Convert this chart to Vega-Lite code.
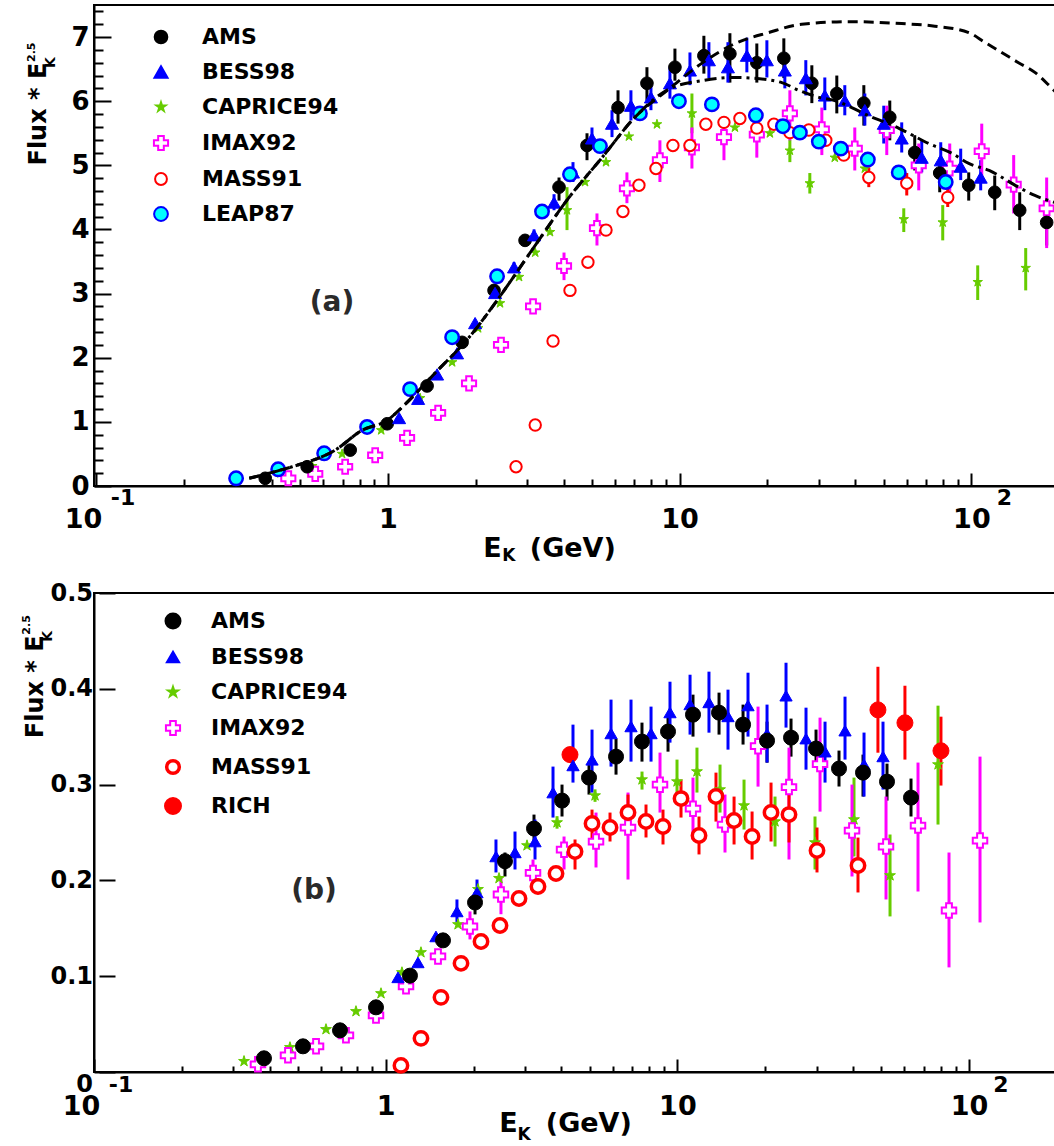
{
  "$schema": "https://vega.github.io/schema/vega-lite/v6.json",
  "background": "white",
  "padding": {"left": 20, "top": 4, "right": 0, "bottom": 0},
  "config": {
    "view": {"stroke": "black", "strokeWidth": 2},
    "font": "DejaVu Sans",
    "axis": {
      "grid": false, "domainColor": "black", "domainWidth": 2, "tickColor": "black", "tickWidth": 2,
      "labelColor": "black", "titleColor": "black", "labelFont": "DejaVu Sans", "labelFontWeight": "bold",
      "titleFont": "DejaVu Sans", "titleFontWeight": "bold", "labelFlush": false, "labelBound": false
    }
  },
  "datasets": {
    "a_pts": [
      {"series": "AMS", "E": 0.380, "flux": 0.12},
      {"series": "AMS", "E": 0.529, "flux": 0.30},
      {"series": "AMS", "E": 0.743, "flux": 0.56},
      {"series": "AMS", "E": 0.995, "flux": 0.97},
      {"series": "AMS", "E": 1.363, "flux": 1.56},
      {"series": "AMS", "E": 1.797, "flux": 2.24},
      {"series": "AMS", "E": 2.312, "flux": 3.05},
      {"series": "AMS", "E": 2.953, "flux": 3.83},
      {"series": "AMS", "E": 3.861, "flux": 4.66, "lo": 4.45, "hi": 4.81},
      {"series": "AMS", "E": 4.815, "flux": 5.31, "lo": 5.08, "hi": 5.50},
      {"series": "AMS", "E": 6.15, "flux": 5.90, "lo": 5.65, "hi": 6.17},
      {"series": "AMS", "E": 7.727, "flux": 6.28, "lo": 6.01, "hi": 6.53},
      {"series": "AMS", "E": 9.637, "flux": 6.53, "lo": 6.32, "hi": 6.82},
      {"series": "AMS", "E": 12.11, "flux": 6.71, "lo": 6.43, "hi": 7.02},
      {"series": "AMS", "E": 14.87, "flux": 6.74, "lo": 6.29, "hi": 7.06},
      {"series": "AMS", "E": 18.39, "flux": 6.60, "lo": 6.29, "hi": 6.90},
      {"series": "AMS", "E": 22.76, "flux": 6.67, "lo": 6.36, "hi": 6.98},
      {"series": "AMS", "E": 28.39, "flux": 6.28, "lo": 5.97, "hi": 6.56},
      {"series": "AMS", "E": 34.57, "flux": 6.12, "lo": 5.81, "hi": 6.40},
      {"series": "AMS", "E": 42.79, "flux": 5.97, "lo": 5.62, "hi": 6.25},
      {"series": "AMS", "E": 52.51, "flux": 5.75, "lo": 5.39, "hi": 6.01},
      {"series": "AMS", "E": 63.94, "flux": 5.20, "lo": 4.92, "hi": 5.47},
      {"series": "AMS", "E": 77.88, "flux": 4.88, "lo": 4.58, "hi": 5.12},
      {"series": "AMS", "E": 97.9, "flux": 4.69, "lo": 4.45, "hi": 4.89},
      {"series": "AMS", "E": 120.2, "flux": 4.58, "lo": 4.30, "hi": 4.84},
      {"series": "AMS", "E": 146.4, "flux": 4.30, "lo": 3.99, "hi": 4.58},
      {"series": "AMS", "E": 181.1, "flux": 4.11, "lo": 3.75, "hi": 4.49},

      {"series": "BESS98", "E": 1.093, "flux": 1.06},
      {"series": "BESS98", "E": 1.270, "flux": 1.36},
      {"series": "BESS98", "E": 1.475, "flux": 1.74},
      {"series": "BESS98", "E": 1.727, "flux": 2.07},
      {"series": "BESS98", "E": 1.991, "flux": 2.54},
      {"series": "BESS98", "E": 2.331, "flux": 3.01},
      {"series": "BESS98", "E": 2.707, "flux": 3.41, "lo": 3.34, "hi": 3.49},
      {"series": "BESS98", "E": 3.17, "flux": 3.91, "lo": 3.82, "hi": 4.00},
      {"series": "BESS98", "E": 3.712, "flux": 4.42, "lo": 4.30, "hi": 4.55},
      {"series": "BESS98", "E": 4.311, "flux": 4.89, "lo": 4.74, "hi": 5.05},
      {"series": "BESS98", "E": 5.008, "flux": 5.42, "lo": 5.28, "hi": 5.59},
      {"series": "BESS98", "E": 5.865, "flux": 5.65, "lo": 5.44, "hi": 5.86},
      {"series": "BESS98", "E": 6.81, "flux": 5.93, "lo": 5.70, "hi": 6.17},
      {"series": "BESS98", "E": 7.975, "flux": 6.06, "lo": 5.86, "hi": 6.25},
      {"series": "BESS98", "E": 9.265, "flux": 6.28, "lo": 6.04, "hi": 6.53},
      {"series": "BESS98", "E": 10.85, "flux": 6.48, "lo": 6.25, "hi": 6.76},
      {"series": "BESS98", "E": 12.60, "flux": 6.64, "lo": 6.36, "hi": 6.92},
      {"series": "BESS98", "E": 14.64, "flux": 6.53, "lo": 6.29, "hi": 6.92},
      {"series": "BESS98", "E": 17.0, "flux": 6.71, "lo": 6.45, "hi": 6.99},
      {"series": "BESS98", "E": 19.91, "flux": 6.64, "lo": 6.37, "hi": 6.95},
      {"series": "BESS98", "E": 22.94, "flux": 6.48, "lo": 6.20, "hi": 6.76},
      {"series": "BESS98", "E": 27.07, "flux": 6.36, "lo": 6.09, "hi": 6.64},
      {"series": "BESS98", "E": 31.45, "flux": 6.09, "lo": 5.86, "hi": 6.37},
      {"series": "BESS98", "E": 36.82, "flux": 6.01, "lo": 5.78, "hi": 6.25},
      {"series": "BESS98", "E": 43.13, "flux": 5.86, "lo": 5.62, "hi": 6.12},
      {"series": "BESS98", "E": 50.08, "flux": 5.65, "lo": 5.34, "hi": 5.93},
      {"series": "BESS98", "E": 57.70, "flux": 5.42, "lo": 5.20, "hi": 5.67},
      {"series": "BESS98", "E": 67.57, "flux": 5.12, "lo": 4.89, "hi": 5.39},
      {"series": "BESS98", "E": 78.51, "flux": 5.08, "lo": 4.74, "hi": 5.36},
      {"series": "BESS98", "E": 91.9, "flux": 4.98, "lo": 4.77, "hi": 5.26},
      {"series": "BESS98", "E": 107.6, "flux": 4.81, "lo": 4.61, "hi": 5.08},

      {"series": "CAPRICE94", "E": 0.428, "flux": 0.20},
      {"series": "CAPRICE94", "E": 0.551, "flux": 0.31},
      {"series": "CAPRICE94", "E": 0.697, "flux": 0.50},
      {"series": "CAPRICE94", "E": 0.949, "flux": 0.87},
      {"series": "CAPRICE94", "E": 1.290, "flux": 1.37},
      {"series": "CAPRICE94", "E": 1.661, "flux": 1.93},
      {"series": "CAPRICE94", "E": 2.039, "flux": 2.46},
      {"series": "CAPRICE94", "E": 2.424, "flux": 2.85},
      {"series": "CAPRICE94", "E": 2.817, "flux": 3.26},
      {"series": "CAPRICE94", "E": 3.20, "flux": 3.64},
      {"series": "CAPRICE94", "E": 3.596, "flux": 3.96},
      {"series": "CAPRICE94", "E": 4.112, "flux": 4.30, "lo": 3.99, "hi": 4.66},
      {"series": "CAPRICE94", "E": 4.740, "flux": 4.74},
      {"series": "CAPRICE94", "E": 5.594, "flux": 5.05},
      {"series": "CAPRICE94", "E": 6.703, "flux": 5.45},
      {"series": "CAPRICE94", "E": 8.363, "flux": 5.64},
      {"series": "CAPRICE94", "E": 11.02, "flux": 5.81, "lo": 5.50, "hi": 6.12},
      {"series": "CAPRICE94", "E": 15.47, "flux": 5.59},
      {"series": "CAPRICE94", "E": 20.39, "flux": 5.50},
      {"series": "CAPRICE94", "E": 23.87, "flux": 5.23, "lo": 5.05, "hi": 5.40},
      {"series": "CAPRICE94", "E": 27.94, "flux": 4.72, "lo": 4.56, "hi": 4.88},
      {"series": "CAPRICE94", "E": 34.02, "flux": 5.12},
      {"series": "CAPRICE94", "E": 43.13, "flux": 4.95},
      {"series": "CAPRICE94", "E": 58.64, "flux": 4.16, "lo": 3.96, "hi": 4.33},
      {"series": "CAPRICE94", "E": 79.75, "flux": 4.11, "lo": 3.83, "hi": 4.38},
      {"series": "CAPRICE94", "E": 105.1, "flux": 3.18, "lo": 2.90, "hi": 3.44},
      {"series": "CAPRICE94", "E": 153.5, "flux": 3.40, "lo": 3.05, "hi": 3.71},

      {"series": "IMAX92", "E": 0.456, "flux": 0.12},
      {"series": "IMAX92", "E": 0.564, "flux": 0.19},
      {"series": "IMAX92", "E": 0.714, "flux": 0.30},
      {"series": "IMAX92", "E": 0.905, "flux": 0.48},
      {"series": "IMAX92", "E": 1.164, "flux": 0.75},
      {"series": "IMAX92", "E": 1.487, "flux": 1.14},
      {"series": "IMAX92", "E": 1.898, "flux": 1.60},
      {"series": "IMAX92", "E": 2.443, "flux": 2.20},
      {"series": "IMAX92", "E": 3.146, "flux": 2.80, "lo": 2.70, "hi": 2.90},
      {"series": "IMAX92", "E": 4.016, "flux": 3.43, "lo": 3.21, "hi": 3.64},
      {"series": "IMAX92", "E": 5.209, "flux": 4.02, "lo": 3.75, "hi": 4.25},
      {"series": "IMAX92", "E": 6.598, "flux": 4.64, "lo": 4.41, "hi": 4.89},
      {"series": "IMAX92", "E": 8.56, "flux": 5.08, "lo": 4.74, "hi": 5.39},
      {"series": "IMAX92", "E": 11.02, "flux": 5.28, "lo": 4.95, "hi": 5.59},
      {"series": "IMAX92", "E": 14.19, "flux": 5.44, "lo": 5.08, "hi": 5.62},
      {"series": "IMAX92", "E": 18.39, "flux": 5.48, "lo": 5.12, "hi": 5.75},
      {"series": "IMAX92", "E": 23.87, "flux": 5.81, "lo": 5.39, "hi": 6.17},
      {"series": "IMAX92", "E": 30.72, "flux": 5.56, "lo": 5.16, "hi": 5.90},
      {"series": "IMAX92", "E": 39.84, "flux": 5.26, "lo": 4.92, "hi": 5.59},
      {"series": "IMAX92", "E": 51.28, "flux": 5.55, "lo": 5.16, "hi": 5.93},
      {"series": "IMAX92", "E": 66.0, "flux": 5.00, "lo": 4.61, "hi": 5.34},
      {"series": "IMAX92", "E": 84.28, "flux": 4.95, "lo": 4.56, "hi": 5.34},
      {"series": "IMAX92", "E": 108.5, "flux": 5.22, "lo": 4.77, "hi": 5.65},
      {"series": "IMAX92", "E": 139.6, "flux": 4.70, "lo": 4.25, "hi": 5.16},
      {"series": "IMAX92", "E": 181.1, "flux": 4.33, "lo": 3.71, "hi": 4.81},

      {"series": "MASS91", "E": 2.750, "flux": 0.30},
      {"series": "MASS91", "E": 3.20, "flux": 0.95},
      {"series": "MASS91", "E": 3.683, "flux": 2.26},
      {"series": "MASS91", "E": 4.21, "flux": 3.05},
      {"series": "MASS91", "E": 4.85, "flux": 3.49},
      {"series": "MASS91", "E": 5.594, "flux": 3.99},
      {"series": "MASS91", "E": 6.394, "flux": 4.28},
      {"series": "MASS91", "E": 7.254, "flux": 4.69},
      {"series": "MASS91", "E": 8.296, "flux": 4.95},
      {"series": "MASS91", "E": 9.486, "flux": 5.31},
      {"series": "MASS91", "E": 10.85, "flux": 5.31},
      {"series": "MASS91", "E": 12.30, "flux": 5.64},
      {"series": "MASS91", "E": 14.19, "flux": 5.67},
      {"series": "MASS91", "E": 16.09, "flux": 5.73},
      {"series": "MASS91", "E": 18.39, "flux": 5.58},
      {"series": "MASS91", "E": 21.04, "flux": 5.64},
      {"series": "MASS91", "E": 23.87, "flux": 5.51},
      {"series": "MASS91", "E": 27.72, "flux": 5.55},
      {"series": "MASS91", "E": 31.70, "flux": 5.39},
      {"series": "MASS91", "E": 36.53, "flux": 5.16},
      {"series": "MASS91", "E": 44.50, "flux": 4.81, "lo": 4.66, "hi": 4.97},
      {"series": "MASS91", "E": 60.04, "flux": 4.72, "lo": 4.53, "hi": 4.88},
      {"series": "MASS91", "E": 82.96, "flux": 4.50, "lo": 4.35, "hi": 4.66},

      {"series": "LEAP87", "E": 0.302, "flux": 0.12},
      {"series": "LEAP87", "E": 0.421, "flux": 0.26},
      {"series": "LEAP87", "E": 0.605, "flux": 0.51},
      {"series": "LEAP87", "E": 0.849, "flux": 0.92},
      {"series": "LEAP87", "E": 1.192, "flux": 1.51},
      {"series": "LEAP87", "E": 1.661, "flux": 2.32},
      {"series": "LEAP87", "E": 2.368, "flux": 3.27},
      {"series": "LEAP87", "E": 3.376, "flux": 4.28},
      {"series": "LEAP87", "E": 4.21, "flux": 4.86},
      {"series": "LEAP87", "E": 5.334, "flux": 5.30},
      {"series": "LEAP87", "E": 7.31, "flux": 5.81},
      {"series": "LEAP87", "E": 9.946, "flux": 6.00},
      {"series": "LEAP87", "E": 12.90, "flux": 5.95},
      {"series": "LEAP87", "E": 18.25, "flux": 5.78},
      {"series": "LEAP87", "E": 22.59, "flux": 5.61},
      {"series": "LEAP87", "E": 25.83, "flux": 5.51},
      {"series": "LEAP87", "E": 30.0, "flux": 5.37},
      {"series": "LEAP87", "E": 35.68, "flux": 5.26},
      {"series": "LEAP87", "E": 44.16, "flux": 5.09},
      {"series": "LEAP87", "E": 56.36, "flux": 4.89},
      {"series": "LEAP87", "E": 81.66, "flux": 4.74}
    ],
    "a_curves": [
      {"curve": "A", "E": 0.335, "flux": 0.12}, {"curve": "A", "E": 0.392, "flux": 0.20}, {"curve": "A", "E": 0.47, "flux": 0.30},
      {"curve": "A", "E": 0.66, "flux": 0.56}, {"curve": "A", "E": 0.817, "flux": 0.87}, {"curve": "A", "E": 1.0, "flux": 1.03},
      {"curve": "A", "E": 1.12, "flux": 1.23}, {"curve": "A", "E": 1.45, "flux": 1.76}, {"curve": "A", "E": 1.90, "flux": 2.32},
      {"curve": "A", "E": 2.46, "flux": 3.0}, {"curve": "A", "E": 3.12, "flux": 3.68}, {"curve": "A", "E": 4.18, "flux": 4.50},
      {"curve": "A", "E": 5.42, "flux": 5.12}, {"curve": "A", "E": 7.03, "flux": 5.75}, {"curve": "A", "E": 9.19, "flux": 6.19},
      {"curve": "A", "E": 11.9, "flux": 6.59}, {"curve": "A", "E": 15.5, "flux": 6.90}, {"curve": "A", "E": 20.2, "flux": 7.07},
      {"curve": "A", "E": 26.2, "flux": 7.20}, {"curve": "A", "E": 38.9, "flux": 7.24}, {"curve": "A", "E": 57.7, "flux": 7.21},
      {"curve": "A", "E": 74.9, "flux": 7.17}, {"curve": "A", "E": 97.9, "flux": 7.07}, {"curve": "A", "E": 111, "flux": 6.92},
      {"curve": "A", "E": 127, "flux": 6.76}, {"curve": "A", "E": 145, "flux": 6.60}, {"curve": "A", "E": 165, "flux": 6.45},
      {"curve": "A", "E": 188, "flux": 6.21}, {"curve": "A", "E": 201, "flux": 6.08},
      {"curve": "B", "E": 0.335, "flux": 0.12}, {"curve": "B", "E": 0.392, "flux": 0.20}, {"curve": "B", "E": 0.47, "flux": 0.30},
      {"curve": "B", "E": 0.66, "flux": 0.56}, {"curve": "B", "E": 0.817, "flux": 0.87}, {"curve": "B", "E": 1.0, "flux": 1.03},
      {"curve": "B", "E": 1.12, "flux": 1.23}, {"curve": "B", "E": 1.45, "flux": 1.76}, {"curve": "B", "E": 1.90, "flux": 2.32},
      {"curve": "B", "E": 2.46, "flux": 3.0}, {"curve": "B", "E": 3.12, "flux": 3.68}, {"curve": "B", "E": 4.18, "flux": 4.50},
      {"curve": "B", "E": 5.42, "flux": 5.12}, {"curve": "B", "E": 7.03, "flux": 5.75}, {"curve": "B", "E": 9.19, "flux": 6.19},
      {"curve": "B", "E": 11.9, "flux": 6.32}, {"curve": "B", "E": 15.5, "flux": 6.37}, {"curve": "B", "E": 17.7, "flux": 6.36},
      {"curve": "B", "E": 22.4, "flux": 6.29}, {"curve": "B", "E": 25.6, "flux": 6.17}, {"curve": "B", "E": 30.0, "flux": 6.06},
      {"curve": "B", "E": 34.0, "flux": 6.01}, {"curve": "B", "E": 38.9, "flux": 5.90}, {"curve": "B", "E": 45.6, "flux": 5.75},
      {"curve": "B", "E": 52.1, "flux": 5.65}, {"curve": "B", "E": 61.0, "flux": 5.50}, {"curve": "B", "E": 71.4, "flux": 5.34},
      {"curve": "B", "E": 85.6, "flux": 5.19}, {"curve": "B", "E": 97.9, "flux": 5.03}, {"curve": "B", "E": 115, "flux": 4.92},
      {"curve": "B", "E": 145, "flux": 4.66}, {"curve": "B", "E": 165, "flux": 4.53}, {"curve": "B", "E": 184, "flux": 4.45},
      {"curve": "B", "E": 201, "flux": 4.40}
    ],
    "b_pts": [
      {"series": "AMS", "E": 0.3826, "flux": 0.0143},
      {"series": "AMS", "E": 0.5205, "flux": 0.0268},
      {"series": "AMS", "E": 0.6971, "flux": 0.0435},
      {"series": "AMS", "E": 0.9263, "flux": 0.0675},
      {"series": "AMS", "E": 1.211, "flux": 0.1006},
      {"series": "AMS", "E": 1.572, "flux": 0.1374},
      {"series": "AMS", "E": 2.024, "flux": 0.1769, "lo": 0.1645, "hi": 0.1874},
      {"series": "AMS", "E": 2.564, "flux": 0.2200, "lo": 0.2041, "hi": 0.2291},
      {"series": "AMS", "E": 3.224, "flux": 0.2541, "lo": 0.2396, "hi": 0.2687},
      {"series": "AMS", "E": 4.022, "flux": 0.2833, "lo": 0.2667, "hi": 0.3000},
      {"series": "AMS", "E": 4.977, "flux": 0.3073, "lo": 0.2896, "hi": 0.3240},
      {"series": "AMS", "E": 6.160, "flux": 0.3292, "lo": 0.3104, "hi": 0.3480},
      {"series": "AMS", "E": 7.561, "flux": 0.3449, "lo": 0.3240, "hi": 0.3647},
      {"series": "AMS", "E": 9.286, "flux": 0.3553, "lo": 0.3344, "hi": 0.3730},
      {"series": "AMS", "E": 11.31, "flux": 0.3730, "lo": 0.3501, "hi": 0.3939},
      {"series": "AMS", "E": 13.89, "flux": 0.3751, "lo": 0.3522, "hi": 0.3960},
      {"series": "AMS", "E": 16.79, "flux": 0.3626, "lo": 0.3418, "hi": 0.3835},
      {"series": "AMS", "E": 20.29, "flux": 0.3459, "lo": 0.3229, "hi": 0.3657},
      {"series": "AMS", "E": 24.52, "flux": 0.3490, "lo": 0.3292, "hi": 0.3689},
      {"series": "AMS", "E": 29.87, "flux": 0.3376, "lo": 0.3188, "hi": 0.3574},
      {"series": "AMS", "E": 35.81, "flux": 0.3167, "lo": 0.2980, "hi": 0.3355},
      {"series": "AMS", "E": 43.28, "flux": 0.3125, "lo": 0.2875, "hi": 0.3313},
      {"series": "AMS", "E": 52.31, "flux": 0.3031, "lo": 0.2833, "hi": 0.3219},
      {"series": "AMS", "E": 63.22, "flux": 0.2864, "lo": 0.2667, "hi": 0.3063},

      {"series": "BESS98", "E": 1.102, "flux": 0.0988},
      {"series": "BESS98", "E": 1.290, "flux": 0.1144},
      {"series": "BESS98", "E": 1.487, "flux": 0.1415},
      {"series": "BESS98", "E": 1.755, "flux": 0.1676, "lo": 0.1561, "hi": 0.1801},
      {"series": "BESS98", "E": 2.056, "flux": 0.1874, "lo": 0.1770, "hi": 0.2009},
      {"series": "BESS98", "E": 2.388, "flux": 0.2250, "lo": 0.2083, "hi": 0.2427},
      {"series": "BESS98", "E": 2.775, "flux": 0.2292, "lo": 0.2114, "hi": 0.2510},
      {"series": "BESS98", "E": 3.250, "flux": 0.2406, "lo": 0.2218, "hi": 0.2635},
      {"series": "BESS98", "E": 3.746, "flux": 0.2917, "lo": 0.2656, "hi": 0.3188},
      {"series": "BESS98", "E": 4.386, "flux": 0.3200, "lo": 0.3021, "hi": 0.3626},
      {"series": "BESS98", "E": 5.097, "flux": 0.3259, "lo": 0.2917, "hi": 0.3574},
      {"series": "BESS98", "E": 5.922, "flux": 0.3534, "lo": 0.3188, "hi": 0.3887},
      {"series": "BESS98", "E": 6.934, "flux": 0.3607, "lo": 0.3240, "hi": 0.3887},
      {"series": "BESS98", "E": 8.121, "flux": 0.3534, "lo": 0.3240, "hi": 0.3814},
      {"series": "BESS98", "E": 9.432, "flux": 0.3753, "lo": 0.3438, "hi": 0.4074},
      {"series": "BESS98", "E": 11.05, "flux": 0.3837, "lo": 0.3522, "hi": 0.4147},
      {"series": "BESS98", "E": 12.83, "flux": 0.3858, "lo": 0.3542, "hi": 0.4179},
      {"series": "BESS98", "E": 14.91, "flux": 0.3712, "lo": 0.3365, "hi": 0.3991},
      {"series": "BESS98", "E": 17.46, "flux": 0.3826, "lo": 0.3501, "hi": 0.4168},
      {"series": "BESS98", "E": 20.29, "flux": 0.3530, "lo": 0.3230, "hi": 0.3835},
      {"series": "BESS98", "E": 23.57, "flux": 0.3928, "lo": 0.3595, "hi": 0.4272},
      {"series": "BESS98", "E": 27.60, "flux": 0.3480, "lo": 0.3156, "hi": 0.3803},
      {"series": "BESS98", "E": 32.07, "flux": 0.3344, "lo": 0.3021, "hi": 0.3657},
      {"series": "BESS98", "E": 37.55, "flux": 0.3563, "lo": 0.3261, "hi": 0.3918},
      {"series": "BESS98", "E": 43.63, "flux": 0.3210, "lo": 0.2875, "hi": 0.3543},
      {"series": "BESS98", "E": 50.68, "flux": 0.3294, "lo": 0.2948, "hi": 0.3657},

      {"series": "CAPRICE94", "E": 0.3268, "flux": 0.0112},
      {"series": "CAPRICE94", "E": 0.4697, "flux": 0.0257},
      {"series": "CAPRICE94", "E": 0.6242, "flux": 0.0445},
      {"series": "CAPRICE94", "E": 0.7909, "flux": 0.0633},
      {"series": "CAPRICE94", "E": 0.9636, "flux": 0.0820},
      {"series": "CAPRICE94", "E": 1.137, "flux": 0.1039},
      {"series": "CAPRICE94", "E": 1.321, "flux": 0.1248},
      {"series": "CAPRICE94", "E": 1.770, "flux": 0.1540},
      {"series": "CAPRICE94", "E": 2.072, "flux": 0.1907},
      {"series": "CAPRICE94", "E": 2.446, "flux": 0.2022},
      {"series": "CAPRICE94", "E": 3.051, "flux": 0.2364},
      {"series": "CAPRICE94", "E": 3.867, "flux": 0.2604, "lo": 0.2540, "hi": 0.2670},
      {"series": "CAPRICE94", "E": 5.220, "flux": 0.2885, "lo": 0.2820, "hi": 0.2950},
      {"series": "CAPRICE94", "E": 7.563, "flux": 0.3052, "lo": 0.2948, "hi": 0.3136},
      {"series": "CAPRICE94", "E": 9.969, "flux": 0.3031, "lo": 0.2875, "hi": 0.3261},
      {"series": "CAPRICE94", "E": 11.67, "flux": 0.3136, "lo": 0.2917, "hi": 0.3386},
      {"series": "CAPRICE94", "E": 14.0, "flux": 0.2948, "lo": 0.2708, "hi": 0.3209},
      {"series": "CAPRICE94", "E": 16.92, "flux": 0.2781, "lo": 0.2531, "hi": 0.3052},
      {"series": "CAPRICE94", "E": 21.61, "flux": 0.2614, "lo": 0.2354, "hi": 0.2875},
      {"series": "CAPRICE94", "E": 29.63, "flux": 0.2395, "lo": 0.2114, "hi": 0.2667},
      {"series": "CAPRICE94", "E": 40.31, "flux": 0.2635, "lo": 0.2250, "hi": 0.3073},
      {"series": "CAPRICE94", "E": 53.57, "flux": 0.2051, "lo": 0.1624, "hi": 0.2479},
      {"series": "CAPRICE94", "E": 78.24, "flux": 0.3209, "lo": 0.2583, "hi": 0.3824},

      {"series": "IMAX92", "E": 0.3648, "flux": 0.0080},
      {"series": "IMAX92", "E": 0.4624, "flux": 0.0174},
      {"series": "IMAX92", "E": 0.5770, "flux": 0.0268},
      {"series": "IMAX92", "E": 0.7307, "flux": 0.0383},
      {"series": "IMAX92", "E": 0.9263, "flux": 0.0591},
      {"series": "IMAX92", "E": 1.174, "flux": 0.0894},
      {"series": "IMAX92", "E": 1.511, "flux": 0.1206},
      {"series": "IMAX92", "E": 1.945, "flux": 0.1519, "lo": 0.1384, "hi": 0.1676},
      {"series": "IMAX92", "E": 2.484, "flux": 0.1853, "lo": 0.1647, "hi": 0.2043},
      {"series": "IMAX92", "E": 3.199, "flux": 0.2078, "lo": 0.1905, "hi": 0.2218},
      {"series": "IMAX92", "E": 4.087, "flux": 0.2321, "lo": 0.2114, "hi": 0.2458},
      {"series": "IMAX92", "E": 5.260, "flux": 0.2405, "lo": 0.2135, "hi": 0.2708},
      {"series": "IMAX92", "E": 6.771, "flux": 0.2551, "lo": 0.2009, "hi": 0.2917},
      {"series": "IMAX92", "E": 8.717, "flux": 0.2999, "lo": 0.2708, "hi": 0.3334},
      {"series": "IMAX92", "E": 11.31, "flux": 0.2749, "lo": 0.2427, "hi": 0.3073},
      {"series": "IMAX92", "E": 14.56, "flux": 0.2583, "lo": 0.2291, "hi": 0.2896},
      {"series": "IMAX92", "E": 18.90, "flux": 0.3401, "lo": 0.2979, "hi": 0.3814},
      {"series": "IMAX92", "E": 24.13, "flux": 0.2974, "lo": 0.2218, "hi": 0.3386},
      {"series": "IMAX92", "E": 30.83, "flux": 0.3214, "lo": 0.2718, "hi": 0.3699},
      {"series": "IMAX92", "E": 39.68, "flux": 0.2520, "lo": 0.2041, "hi": 0.3000},
      {"series": "IMAX92", "E": 51.90, "flux": 0.2353, "lo": 0.1801, "hi": 0.2875},
      {"series": "IMAX92", "E": 66.81, "flux": 0.2572, "lo": 0.1884, "hi": 0.3230},
      {"series": "IMAX92", "E": 85.33, "flux": 0.1686, "lo": 0.1092, "hi": 0.2291},
      {"series": "IMAX92", "E": 109.0, "flux": 0.2416, "lo": 0.1561, "hi": 0.3292},

      {"series": "MASS91", "E": 1.128, "flux": 0.0069},
      {"series": "MASS91", "E": 1.321, "flux": 0.0351},
      {"series": "MASS91", "E": 1.547, "flux": 0.0779},
      {"series": "MASS91", "E": 1.812, "flux": 0.1134},
      {"series": "MASS91", "E": 2.122, "flux": 0.1363},
      {"series": "MASS91", "E": 2.465, "flux": 0.1530},
      {"series": "MASS91", "E": 2.864, "flux": 0.1811},
      {"series": "MASS91", "E": 3.327, "flux": 0.1936},
      {"series": "MASS91", "E": 3.836, "flux": 0.2072},
      {"series": "MASS91", "E": 4.457, "flux": 0.2302, "lo": 0.2114, "hi": 0.2427},
      {"series": "MASS91", "E": 5.097, "flux": 0.2594, "lo": 0.2427, "hi": 0.2739},
      {"series": "MASS91", "E": 5.875, "flux": 0.2552, "lo": 0.2406, "hi": 0.2708},
      {"series": "MASS91", "E": 6.771, "flux": 0.2708, "lo": 0.2510, "hi": 0.2896},
      {"series": "MASS91", "E": 7.805, "flux": 0.2614, "lo": 0.2448, "hi": 0.2792},
      {"series": "MASS91", "E": 8.926, "flux": 0.2562, "lo": 0.2375, "hi": 0.2739},
      {"series": "MASS91", "E": 10.29, "flux": 0.2854, "lo": 0.2656, "hi": 0.3052},
      {"series": "MASS91", "E": 11.86, "flux": 0.2468, "lo": 0.2271, "hi": 0.2667},
      {"series": "MASS91", "E": 13.56, "flux": 0.2875, "lo": 0.2614, "hi": 0.3125},
      {"series": "MASS91", "E": 15.64, "flux": 0.2625, "lo": 0.2375, "hi": 0.2875},
      {"series": "MASS91", "E": 18.03, "flux": 0.2458, "lo": 0.2218, "hi": 0.2719},
      {"series": "MASS91", "E": 20.94, "flux": 0.2708, "lo": 0.2406, "hi": 0.3021},
      {"series": "MASS91", "E": 24.13, "flux": 0.2687, "lo": 0.2396, "hi": 0.2979},
      {"series": "MASS91", "E": 30.10, "flux": 0.2312, "lo": 0.2083, "hi": 0.2552},
      {"series": "MASS91", "E": 41.60, "flux": 0.2156, "lo": 0.1874, "hi": 0.2447},

      {"series": "RICH", "E": 4.283, "flux": 0.3313, "lo": 0.3261, "hi": 0.3365},
      {"series": "RICH", "E": 48.69, "flux": 0.3780, "lo": 0.3333, "hi": 0.4230},
      {"series": "RICH", "E": 60.26, "flux": 0.3645, "lo": 0.3261, "hi": 0.4032},
      {"series": "RICH", "E": 80.08, "flux": 0.3353, "lo": 0.2990, "hi": 0.3709}
    ]
  },
  "spacing": 107,
  "bounds": "flush",
  "resolve": {
    "scale": {"x": "independent", "y": "independent", "fill": "independent", "stroke": "independent", "shape": "independent"},
    "legend": {"fill": "independent", "stroke": "independent", "shape": "independent"}
  },
  "vconcat": [
    {
      "width": 966,
      "height": 481,
      "resolve": {"axis": {"y": "independent"}},
      "layer": [
        {
          "data": {"name": "a_pts"},
          "transform": [{"filter": "datum.series == 'AMS' && isValid(datum.lo)"}],
          "mark": {"type": "rule", "strokeWidth": 3, "color": "#000000"},
          "encoding": {
            "x": {
              "field": "E", "type": "quantitative",
              "scale": {"type": "log", "domain": [0.0984, 201.2], "nice": false},
              "axis": {
                "values": [0.1, 0.2, 0.3, 0.4, 0.5, 0.6, 0.7, 0.8, 0.9, 1, 2, 3, 4, 5, 6, 7, 8, 9, 10, 20, 30, 40, 50, 60, 70, 80, 90, 100],
                "tickSize": {"condition": {"test": "datum.value == 0.1 || datum.value == 1 || datum.value == 10 || datum.value == 100", "value": -13}, "value": -7},
                "labelExpr": "datum.value == 0.1 || datum.value == 10 || datum.value == 100 ? '10' : datum.value == 1 ? '1' : ''",
                "labelOffset": {"condition": {"test": "datum.value == 0.1", "value": -13}, "value": 0},
                "labelFontSize": 27, "labelAlign": "center", "labelBaseline": "alphabetic", "labelPadding": 54,
                "labelOverlap": false, "labelFlush": false, "labelBound": false,
                "title": "E\u00a0\u00a0\u00a0(GeV)", "titleFontSize": 27, "titleX": 455, "titleY": 70, "titleAlign": "center", "titleBaseline": "alphabetic", "titleAngle": 0
              }
            },
            "y": {
              "field": "lo", "type": "quantitative",
              "scale": {"domain": [0, 7.5], "nice": false, "zero": false},
              "axis": {
                "orient": "left",
                "values": [0, 1, 2, 3, 4, 5, 6, 7],
                "tickSize": -17,
                "format": "d",
                "labelFontSize": 26, "labelPadding": 22, "labelAlign": "right", "labelBaseline": "middle",
                "labelOverlap": false, "labelFlush": false, "labelBound": false,
                "title": "Flux * E", "titleFontSize": 24, "titleAngle": 270, "titleAlign": "left", "titleBaseline": "alphabetic", "titleX": -49, "titleY": 160
              }
            },
            "y2": {"field": "hi"}
          }
        },
        {
          "data": {"name": "a_pts"},
          "transform": [{"filter": "datum.series == 'BESS98' && isValid(datum.lo)"}],
          "mark": {"type": "rule", "strokeWidth": 3, "color": "#0000ff"},
          "encoding": {"x": {"field": "E", "type": "quantitative"}, "y": {"field": "lo", "type": "quantitative", "axis": null}, "y2": {"field": "hi"}}
        },
        {
          "data": {"name": "a_pts"},
          "transform": [{"filter": "datum.series == 'CAPRICE94' && isValid(datum.lo)"}],
          "mark": {"type": "rule", "strokeWidth": 3, "color": "#66cc00"},
          "encoding": {"x": {"field": "E", "type": "quantitative"}, "y": {"field": "lo", "type": "quantitative", "axis": null}, "y2": {"field": "hi"}}
        },
        {
          "data": {"name": "a_pts"},
          "transform": [{"filter": "datum.series == 'IMAX92' && isValid(datum.lo)"}],
          "mark": {"type": "rule", "strokeWidth": 3, "color": "#ff00ff"},
          "encoding": {"x": {"field": "E", "type": "quantitative"}, "y": {"field": "lo", "type": "quantitative", "axis": null}, "y2": {"field": "hi"}}
        },
        {
          "data": {"name": "a_pts"},
          "transform": [{"filter": "datum.series == 'MASS91' && isValid(datum.lo)"}],
          "mark": {"type": "rule", "strokeWidth": 3, "color": "#ff0000"},
          "encoding": {"x": {"field": "E", "type": "quantitative"}, "y": {"field": "lo", "type": "quantitative", "axis": null}, "y2": {"field": "hi"}}
        },
        {
          "data": {"name": "a_pts"},
          "transform": [{"filter": "datum.series == 'CAPRICE94'"}],
          "mark": {"type": "point", "opacity": 1, "size": 100, "strokeWidth": 1},
          "encoding": {
            "x": {"field": "E", "type": "quantitative"},
            "y": {"field": "flux", "type": "quantitative", "axis": null},
            "shape": {
              "field": "series", "type": "nominal",
              "scale": {"domain": ["AMS", "BESS98", "CAPRICE94", "IMAX92", "MASS91", "LEAP87"], "range": ["circle", "triangle-up", "M0,-1L0.2245,-0.309L0.951,-0.309L0.363,0.118L0.588,0.809L0,0.382L-0.588,0.809L-0.363,0.118L-0.951,-0.309L-0.2245,-0.309Z", "cross", "circle", "circle"]},
              "legend": {
                "orient": "none", "legendX": 56, "legendY": 21, "title": null, "padding": 0,
                "labelFont": "DejaVu Sans", "labelFontWeight": "bold", "labelFontSize": 22, "labelColor": "black", "labelOffset": 30, "rowPadding": 13,
                "symbolSize": {"expr": "datum.value == 'AMS' ? 160 : datum.value == 'BESS98' ? 170 : datum.value == 'CAPRICE94' ? 90 : datum.value == 'IMAX92' ? 200 : datum.value == 'MASS91' ? 140 : 190"},
                "symbolStrokeWidth": 2
              }
            },
            "fill": {
              "field": "series", "type": "nominal",
              "scale": {"domain": ["AMS", "BESS98", "CAPRICE94", "IMAX92", "MASS91", "LEAP87"], "range": ["#000000", "#0000ff", "#66cc00", "#ffffff", "#ffffff", "#00ffff"]},
              "legend": {
                "orient": "none", "legendX": 56, "legendY": 21, "title": null, "padding": 0,
                "labelFont": "DejaVu Sans", "labelFontWeight": "bold", "labelFontSize": 22, "labelColor": "black", "labelOffset": 30, "rowPadding": 13,
                "symbolSize": {"expr": "datum.value == 'AMS' ? 160 : datum.value == 'BESS98' ? 170 : datum.value == 'CAPRICE94' ? 90 : datum.value == 'IMAX92' ? 200 : datum.value == 'MASS91' ? 140 : 190"},
                "symbolStrokeWidth": 2
              }
            },
            "stroke": {
              "field": "series", "type": "nominal",
              "scale": {"domain": ["AMS", "BESS98", "CAPRICE94", "IMAX92", "MASS91", "LEAP87"], "range": ["#000000", "#0000ff", "#66cc00", "#ff00ff", "#ff0000", "#0000ff"]},
              "legend": {
                "orient": "none", "legendX": 56, "legendY": 21, "title": null, "padding": 0,
                "labelFont": "DejaVu Sans", "labelFontWeight": "bold", "labelFontSize": 22, "labelColor": "black", "labelOffset": 30, "rowPadding": 13,
                "symbolSize": {"expr": "datum.value == 'AMS' ? 160 : datum.value == 'BESS98' ? 170 : datum.value == 'CAPRICE94' ? 90 : datum.value == 'IMAX92' ? 200 : datum.value == 'MASS91' ? 140 : 190"},
                "symbolStrokeWidth": 2
              }
            }
          }
        },
        {
          "data": {"name": "a_pts"},
          "transform": [{"filter": "datum.series == 'IMAX92'"}],
          "mark": {"type": "point", "opacity": 1, "size": 200, "strokeWidth": 2},
          "encoding": {
            "x": {"field": "E", "type": "quantitative"},
            "y": {"field": "flux", "type": "quantitative", "axis": null},
            "shape": {"field": "series", "type": "nominal"},
            "fill": {"field": "series", "type": "nominal"},
            "stroke": {"field": "series", "type": "nominal"}
          }
        },
        {
          "data": {"name": "a_pts"},
          "transform": [{"filter": "datum.series == 'MASS91'"}],
          "mark": {"type": "point", "opacity": 1, "size": 130, "strokeWidth": 2},
          "encoding": {
            "x": {"field": "E", "type": "quantitative"},
            "y": {"field": "flux", "type": "quantitative", "axis": null},
            "shape": {"field": "series", "type": "nominal"},
            "fill": {"field": "series", "type": "nominal"},
            "stroke": {"field": "series", "type": "nominal"}
          }
        },
        {
          "data": {"name": "a_pts"},
          "transform": [{"filter": "datum.series == 'AMS'"}],
          "mark": {"type": "point", "opacity": 1, "size": 160, "strokeWidth": 1},
          "encoding": {
            "x": {"field": "E", "type": "quantitative"},
            "y": {"field": "flux", "type": "quantitative", "axis": null},
            "shape": {"field": "series", "type": "nominal"},
            "fill": {"field": "series", "type": "nominal"},
            "stroke": {"field": "series", "type": "nominal"}
          }
        },
        {
          "data": {"name": "a_pts"},
          "transform": [{"filter": "datum.series == 'BESS98'"}],
          "mark": {"type": "point", "opacity": 1, "size": 170, "strokeWidth": 1},
          "encoding": {
            "x": {"field": "E", "type": "quantitative"},
            "y": {"field": "flux", "type": "quantitative", "axis": null},
            "shape": {"field": "series", "type": "nominal"},
            "fill": {"field": "series", "type": "nominal"},
            "stroke": {"field": "series", "type": "nominal"}
          }
        },
        {
          "data": {"name": "a_pts"},
          "transform": [{"filter": "datum.series == 'LEAP87'"}],
          "mark": {"type": "point", "opacity": 1, "size": 180, "strokeWidth": 2.5},
          "encoding": {
            "x": {"field": "E", "type": "quantitative"},
            "y": {"field": "flux", "type": "quantitative", "axis": null},
            "shape": {"field": "series", "type": "nominal"},
            "fill": {"field": "series", "type": "nominal"},
            "stroke": {"field": "series", "type": "nominal"}
          }
        },
        {
          "data": {"name": "a_curves"},
          "transform": [{"filter": "datum.curve == 'A'"}],
          "mark": {"type": "line", "color": "black", "strokeWidth": 3, "strokeDash": [10, 6], "interpolate": "monotone"},
          "encoding": {
            "x": {"field": "E", "type": "quantitative"},
            "y": {
              "field": "flux", "type": "quantitative",
              "axis": {
                "orient": "left",
                "values": [0.2, 0.4, 0.6, 0.8, 1.2, 1.4, 1.6, 1.8, 2.2, 2.4, 2.6, 2.8, 3.2, 3.4, 3.6, 3.8, 4.2, 4.4, 4.6, 4.8, 5.2, 5.4, 5.6, 5.8, 6.2, 6.4, 6.6, 6.8, 7.2, 7.4],
                "tickSize": -9, "labels": false, "domain": false, "title": null, "grid": false
              }
            }
          }
        },
        {
          "data": {"name": "a_curves"},
          "transform": [{"filter": "datum.curve == 'B'"}],
          "mark": {"type": "line", "color": "black", "strokeWidth": 3, "strokeDash": [12, 5, 3, 5], "interpolate": "monotone"},
          "encoding": {"x": {"field": "E", "type": "quantitative"}, "y": {"field": "flux", "type": "quantitative", "axis": null}}
        },
        {
          "data": {"values": [{}]},
          "mark": {"type": "text", "text": "(a)", "fontSize": 28, "fontWeight": "bold", "font": "DejaVu Sans", "color": "#2a2a2a", "align": "center", "baseline": "middle", "clip": false},
          "encoding": {"x": {"datum": 0.6435}, "y": {"datum": 2.853, "axis": null}}
        },
        {
          "data": {"values": [{}]},
          "mark": {"type": "text", "text": "K", "fontSize": 17, "fontWeight": "bold", "font": "DejaVu Sans", "color": "black", "align": "center", "baseline": "alphabetic", "clip": false},
          "encoding": {"x": {"datum": 2.601}, "y": {"datum": -1.1695, "axis": null}}
        },
        {
          "data": {"values": [{}]},
          "mark": {"type": "text", "text": "-1", "fontSize": 22, "fontWeight": "bold", "font": "DejaVu Sans", "color": "black", "align": "center", "baseline": "alphabetic", "clip": false},
          "encoding": {"x": {"datum": 0.1237}, "y": {"datum": -0.296, "axis": null}}
        },
        {
          "data": {"values": [{}]},
          "mark": {"type": "text", "text": "2", "fontSize": 22, "fontWeight": "bold", "font": "DejaVu Sans", "color": "black", "align": "center", "baseline": "alphabetic", "clip": false},
          "encoding": {"x": {"datum": 129.8}, "y": {"datum": -0.296, "axis": null}}
        },
        {
          "data": {"values": [{}]},
          "mark": {"type": "text", "text": "2.5", "fontSize": 11, "fontWeight": "bold", "font": "DejaVu Sans", "color": "black", "angle": 270, "align": "left", "baseline": "alphabetic", "clip": false},
          "encoding": {"x": {"datum": 0.06177}, "y": {"datum": 6.611, "axis": null}}
        },
        {
          "data": {"values": [{}]},
          "mark": {"type": "text", "text": "K", "fontSize": 14, "fontWeight": "bold", "font": "DejaVu Sans", "color": "black", "angle": 270, "align": "left", "baseline": "alphabetic", "clip": false},
          "encoding": {"x": {"datum": 0.07234}, "y": {"datum": 6.518, "axis": null}}
        }
      ]
    },
    {
      "width": 961,
      "height": 479,
      "layer": [
        {
          "data": {"name": "b_pts"},
          "transform": [{"filter": "datum.series == 'AMS' && isValid(datum.lo)"}],
          "mark": {"type": "rule", "strokeWidth": 3, "color": "#000000"},
          "encoding": {
            "x": {
              "field": "E", "type": "quantitative",
              "scale": {"type": "log", "domain": [0.1, 197], "nice": false},
              "axis": {
                "values": [0.1, 0.2, 0.3, 0.4, 0.5, 0.6, 0.7, 0.8, 0.9, 1, 2, 3, 4, 5, 6, 7, 8, 9, 10, 20, 30, 40, 50, 60, 70, 80, 90, 100],
                "tickSize": {"condition": {"test": "datum.value == 0.1 || datum.value == 1 || datum.value == 10 || datum.value == 100", "value": -13}, "value": -6},
                "labelExpr": "datum.value == 0.1 || datum.value == 10 || datum.value == 100 ? '10' : datum.value == 1 ? '1' : ''",
                "labelOffset": {"condition": {"test": "datum.value == 0.1", "value": -13}, "value": 0},
                "labelFontSize": 27, "labelAlign": "center", "labelBaseline": "alphabetic", "labelPadding": 55,
                "labelOverlap": false, "labelFlush": false, "labelBound": false,
                "title": "E\u00a0\u00a0\u00a0(GeV)", "titleFontSize": 27, "titleX": 471, "titleY": 59, "titleAlign": "center", "titleBaseline": "alphabetic", "titleAngle": 0
              }
            },
            "y": {
              "field": "lo", "type": "quantitative",
              "scale": {"domain": [0, 0.5], "nice": false, "zero": false},
              "axis": {
                "values": [0, 0.1, 0.2, 0.3, 0.4, 0.5],
                "tickSize": -21, "tickDash": [0, 5, 16, 100],
                "labelExpr": "datum.value == 0 ? '0' : format(datum.value, '.1f')",
                "labelFontSize": 24, "labelPadding": 22.5, "labelAlign": "right",
                "labelBaseline": {"condition": {"test": "datum.value == 0", "value": "top"}, "value": "middle"},
                "labelOverlap": false, "labelFlush": false, "labelBound": false,
                "title": "Flux * E", "titleFontSize": 24, "titleAngle": 270, "titleAlign": "left", "titleBaseline": "alphabetic", "titleX": -52, "titleY": 144.7
              }
            },
            "y2": {"field": "hi"}
          }
        },
        {
          "data": {"name": "b_pts"},
          "transform": [{"filter": "datum.series == 'BESS98' && isValid(datum.lo)"}],
          "mark": {"type": "rule", "strokeWidth": 3, "color": "#0000ff"},
          "encoding": {"x": {"field": "E", "type": "quantitative"}, "y": {"field": "lo", "type": "quantitative"}, "y2": {"field": "hi"}}
        },
        {
          "data": {"name": "b_pts"},
          "transform": [{"filter": "datum.series == 'CAPRICE94' && isValid(datum.lo)"}],
          "mark": {"type": "rule", "strokeWidth": 3, "color": "#66cc00"},
          "encoding": {"x": {"field": "E", "type": "quantitative"}, "y": {"field": "lo", "type": "quantitative"}, "y2": {"field": "hi"}}
        },
        {
          "data": {"name": "b_pts"},
          "transform": [{"filter": "datum.series == 'IMAX92' && isValid(datum.lo)"}],
          "mark": {"type": "rule", "strokeWidth": 3, "color": "#ff00ff"},
          "encoding": {"x": {"field": "E", "type": "quantitative"}, "y": {"field": "lo", "type": "quantitative"}, "y2": {"field": "hi"}}
        },
        {
          "data": {"name": "b_pts"},
          "transform": [{"filter": "(datum.series == 'MASS91' || datum.series == 'RICH') && isValid(datum.lo)"}],
          "mark": {"type": "rule", "strokeWidth": 3, "color": "#ff0000"},
          "encoding": {"x": {"field": "E", "type": "quantitative"}, "y": {"field": "lo", "type": "quantitative"}, "y2": {"field": "hi"}}
        },
        {
          "data": {"name": "b_pts"},
          "transform": [{"filter": "datum.series == 'RICH'"}],
          "mark": {"type": "point", "opacity": 1, "size": 256, "strokeWidth": 1},
          "encoding": {
            "x": {"field": "E", "type": "quantitative"},
            "y": {"field": "flux", "type": "quantitative"},
            "shape": {
              "field": "series", "type": "nominal",
              "scale": {"domain": ["AMS", "BESS98", "CAPRICE94", "IMAX92", "MASS91", "RICH"], "range": ["circle", "triangle-up", "M0,-1L0.2245,-0.309L0.951,-0.309L0.363,0.118L0.588,0.809L0,0.382L-0.588,0.809L-0.363,0.118L-0.951,-0.309L-0.2245,-0.309Z", "cross", "circle", "circle"]},
              "legend": {
                "orient": "none", "legendX": 68, "legendY": 17, "title": null, "padding": 0,
                "labelFont": "DejaVu Sans", "labelFontWeight": "bold", "labelFontSize": 22, "labelColor": "black", "labelOffset": 27, "rowPadding": 13,
                "symbolSize": {"expr": "datum.value == 'AMS' ? 225 : datum.value == 'BESS98' ? 150 : datum.value == 'CAPRICE94' ? 110 : datum.value == 'IMAX92' ? 200 : datum.value == 'MASS91' ? 160 : 256"},
                "symbolStrokeWidth": {"expr": "datum.value == 'MASS91' ? 3.5 : 2"}
              }
            },
            "fill": {
              "field": "series", "type": "nominal",
              "scale": {"domain": ["AMS", "BESS98", "CAPRICE94", "IMAX92", "MASS91", "RICH"], "range": ["#000000", "#0000ff", "#66cc00", "#ffffff", "#ffffff", "#ff0000"]},
              "legend": {
                "orient": "none", "legendX": 68, "legendY": 17, "title": null, "padding": 0,
                "labelFont": "DejaVu Sans", "labelFontWeight": "bold", "labelFontSize": 22, "labelColor": "black", "labelOffset": 27, "rowPadding": 13,
                "symbolSize": {"expr": "datum.value == 'AMS' ? 225 : datum.value == 'BESS98' ? 150 : datum.value == 'CAPRICE94' ? 110 : datum.value == 'IMAX92' ? 200 : datum.value == 'MASS91' ? 160 : 256"},
                "symbolStrokeWidth": {"expr": "datum.value == 'MASS91' ? 3.5 : 2"}
              }
            },
            "stroke": {
              "field": "series", "type": "nominal",
              "scale": {"domain": ["AMS", "BESS98", "CAPRICE94", "IMAX92", "MASS91", "RICH"], "range": ["#000000", "#0000ff", "#66cc00", "#ff00ff", "#ff0000", "#ff0000"]},
              "legend": {
                "orient": "none", "legendX": 68, "legendY": 17, "title": null, "padding": 0,
                "labelFont": "DejaVu Sans", "labelFontWeight": "bold", "labelFontSize": 22, "labelColor": "black", "labelOffset": 27, "rowPadding": 13,
                "symbolSize": {"expr": "datum.value == 'AMS' ? 225 : datum.value == 'BESS98' ? 150 : datum.value == 'CAPRICE94' ? 110 : datum.value == 'IMAX92' ? 200 : datum.value == 'MASS91' ? 160 : 256"},
                "symbolStrokeWidth": {"expr": "datum.value == 'MASS91' ? 3.5 : 2"}
              }
            }
          }
        },
        {
          "data": {"name": "b_pts"},
          "transform": [{"filter": "datum.series == 'CAPRICE94'"}],
          "mark": {"type": "point", "opacity": 1, "size": 130, "strokeWidth": 1},
          "encoding": {
            "x": {"field": "E", "type": "quantitative"},
            "y": {"field": "flux", "type": "quantitative"},
            "shape": {"field": "series", "type": "nominal"},
            "fill": {"field": "series", "type": "nominal"},
            "stroke": {"field": "series", "type": "nominal"}
          }
        },
        {
          "data": {"name": "b_pts"},
          "transform": [{"filter": "datum.series == 'IMAX92'"}],
          "mark": {"type": "point", "opacity": 1, "size": 210, "strokeWidth": 2},
          "encoding": {
            "x": {"field": "E", "type": "quantitative"},
            "y": {"field": "flux", "type": "quantitative"},
            "shape": {"field": "series", "type": "nominal"},
            "fill": {"field": "series", "type": "nominal"},
            "stroke": {"field": "series", "type": "nominal"}
          }
        },
        {
          "data": {"name": "b_pts"},
          "transform": [{"filter": "datum.series == 'MASS91'"}],
          "mark": {"type": "point", "opacity": 1, "size": 180, "strokeWidth": 3.5},
          "encoding": {
            "x": {"field": "E", "type": "quantitative"},
            "y": {"field": "flux", "type": "quantitative"},
            "shape": {"field": "series", "type": "nominal"},
            "fill": {"field": "series", "type": "nominal"},
            "stroke": {"field": "series", "type": "nominal"}
          }
        },
        {
          "data": {"name": "b_pts"},
          "transform": [{"filter": "datum.series == 'BESS98'"}],
          "mark": {"type": "point", "opacity": 1, "size": 150, "strokeWidth": 1},
          "encoding": {
            "x": {"field": "E", "type": "quantitative"},
            "y": {"field": "flux", "type": "quantitative"},
            "shape": {"field": "series", "type": "nominal"},
            "fill": {"field": "series", "type": "nominal"},
            "stroke": {"field": "series", "type": "nominal"}
          }
        },
        {
          "data": {"name": "b_pts"},
          "transform": [{"filter": "datum.series == 'AMS'"}],
          "mark": {"type": "point", "opacity": 1, "size": 225, "strokeWidth": 1},
          "encoding": {
            "x": {"field": "E", "type": "quantitative"},
            "y": {"field": "flux", "type": "quantitative"},
            "shape": {"field": "series", "type": "nominal"},
            "fill": {"field": "series", "type": "nominal"},
            "stroke": {"field": "series", "type": "nominal"}
          }
        },
        {
          "data": {"values": [{}]},
          "mark": {"type": "text", "text": "(b)", "fontSize": 28, "fontWeight": "bold", "font": "DejaVu Sans", "color": "#2a2a2a", "align": "center", "baseline": "middle", "clip": false},
          "encoding": {"x": {"datum": 0.5677}, "y": {"datum": 0.1893}}
        },
        {
          "data": {"values": [{}]},
          "mark": {"type": "text", "text": "K", "fontSize": 17, "fontWeight": "bold", "font": "DejaVu Sans", "color": "black", "align": "center", "baseline": "alphabetic", "clip": false},
          "encoding": {"x": {"datum": 2.979}, "y": {"datum": -0.0707}}
        },
        {
          "data": {"values": [{}]},
          "mark": {"type": "text", "text": "-1", "fontSize": 22, "fontWeight": "bold", "font": "DejaVu Sans", "color": "black", "align": "center", "baseline": "alphabetic", "clip": false},
          "encoding": {"x": {"datum": 0.1238}, "y": {"datum": -0.0206}}
        },
        {
          "data": {"values": [{}]},
          "mark": {"type": "text", "text": "2", "fontSize": 22, "fontWeight": "bold", "font": "DejaVu Sans", "color": "black", "align": "center", "baseline": "alphabetic", "clip": false},
          "encoding": {"x": {"datum": 128.6}, "y": {"datum": -0.0206}}
        },
        {
          "data": {"values": [{}]},
          "mark": {"type": "text", "text": "2.5", "fontSize": 11, "fontWeight": "bold", "font": "DejaVu Sans", "color": "black", "angle": 270, "align": "left", "baseline": "alphabetic", "clip": false},
          "encoding": {"x": {"datum": 0.06034}, "y": {"datum": 0.4565}}
        },
        {
          "data": {"values": [{}]},
          "mark": {"type": "text", "text": "K", "fontSize": 14, "fontWeight": "bold", "font": "DejaVu Sans", "color": "black", "angle": 270, "align": "left", "baseline": "alphabetic", "clip": false},
          "encoding": {"x": {"datum": 0.07178}, "y": {"datum": 0.4492}}
        }
      ]
    }
  ]
}
